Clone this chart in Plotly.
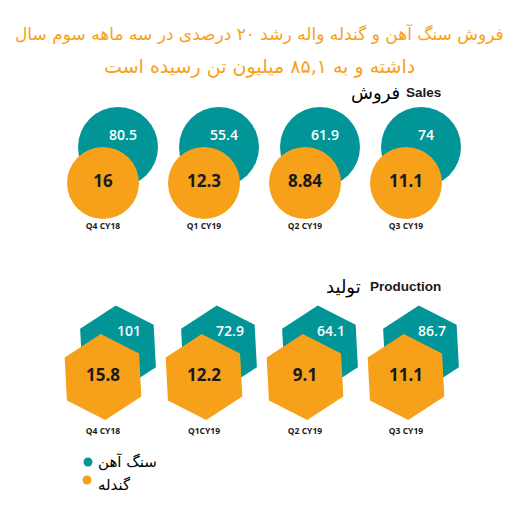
import plotly.graph_objects as go

# data (million tonnes)
quarters_sales = ["Q4 CY18", "Q1 CY19", "Q2 CY19", "Q3 CY19"]
quarters_prod = ["Q4 CY18", "Q1CY19", "Q2 CY19", "Q3 CY19"]
sales_ore = [80.5, 55.4, 61.9, 74]
sales_pellet = [16, 12.3, 8.84, 11.1]
prod_ore = [101, 72.9, 64.1, 86.7]
prod_pellet = [15.8, 12.2, 9.1, 11.1]

title_lines = ["فروش سنگ آهن و گندله واله رشد ۲۰ درصدی در سه ماهه سوم سال",
               "داشته و به ۸۵,۱ میلیون تن رسیده است"]
legend_names = ["سنگ آهن", "گندله"]

TEAL = "#029598"
ORANGE = "#F7A11A"
W, H = 523, 525
PAD = 8  # page body margin, so axis units equal page pixels
X0, STEP = 103, 101

xs = [X0 + STEP * i for i in range(len(quarters_sales))]
fmt = lambda v: f"{v:g}"

fig = go.Figure()


def block(ore, pellet, labels, y_pellet, dy_ore, symbol, s_ore, s_pel, tdx, tdy, ylab, angle):
    # ore marker sits behind and up-right of the pellet marker
    fig.add_trace(go.Scatter(
        x=[x + 15 for x in xs], y=[y_pellet - dy_ore] * len(xs), mode="markers",
        marker=dict(symbol=symbol, size=s_ore, color=TEAL, angle=angle, line=dict(width=0)),
        hoverinfo="skip"))
    fig.add_trace(go.Scatter(
        x=xs, y=[y_pellet] * len(xs), mode="markers",
        marker=dict(symbol=symbol, size=s_pel, color=ORANGE, angle=angle, line=dict(width=0)),
        hoverinfo="skip"))
    fig.add_trace(go.Scatter(
        x=[x + 15 + tdx for x in xs], y=[y_pellet - dy_ore + tdy] * len(xs), mode="text",
        text=[fmt(v) for v in ore],
        textfont=dict(family="Open Sans", size=14, color="white", weight=600),
        hoverinfo="skip"))
    fig.add_trace(go.Scatter(
        x=xs, y=[y_pellet] * len(xs), mode="text",
        text=[fmt(v) for v in pellet],
        textfont=dict(family="Open Sans", size=17, color="#1a1a1a", weight=700),
        hoverinfo="skip"))
    fig.add_trace(go.Scatter(
        x=xs, y=[ylab] * len(xs), mode="text", text=labels,
        textfont=dict(family="Open Sans", size=8.5, color="#1a1a1a", weight=700),
        hoverinfo="skip"))


block(sales_ore, sales_pellet, quarters_sales, 183, 36, "circle", 80, 72, 5, -11, 227, 0)
block(prod_ore, prod_pellet, quarters_prod, 377, 29, "hexagon", 85, 86, 11, -16, 432, -3)

# legend dots
fig.add_trace(go.Scatter(x=[88, 87], y=[462, 480], mode="markers",
                         marker=dict(size=9, color=[TEAL, ORANGE]), hoverinfo="skip"))

ann = []
for i, (line, size) in enumerate(zip(title_lines, [17, 19])):
    ann.append(dict(x=259, y=33 + 33 * i, text=line, xanchor="center", yanchor="middle",
                    font=dict(family="DejaVu Sans", size=size, color=ORANGE)))

ann += [
    dict(x=443, y=92, text="<b>Sales</b>", xanchor="right", yanchor="middle",
         font=dict(family="Liberation Sans", size=13.5, color="#1a1a1a")),
    dict(x=402, y=93, text="فروش", xanchor="right", yanchor="middle",
         font=dict(family="DejaVu Sans", size=18, color="black")),
    dict(x=443, y=286, text="<b>Production</b>", xanchor="right", yanchor="middle",
         font=dict(family="Liberation Sans", size=13.5, color="#1a1a1a")),
    dict(x=363, y=287, text="تولید", xanchor="right", yanchor="middle",
         font=dict(family="DejaVu Sans", size=18, color="black")),
    dict(x=96, y=462, text=legend_names[0], xanchor="left", yanchor="middle",
         font=dict(family="DejaVu Sans", size=15, color="black")),
    dict(x=96, y=485, text=legend_names[1], xanchor="left", yanchor="middle",
         font=dict(family="DejaVu Sans", size=15, color="black")),
]
for a in ann:
    a.update(xref="x", yref="y", showarrow=False)

fig.update_layout(
    width=W, height=H, margin=dict(l=0, r=0, t=0, b=0),
    paper_bgcolor="white", plot_bgcolor="white", showlegend=False,
    xaxis=dict(range=[PAD, W + PAD], visible=False, fixedrange=True),
    yaxis=dict(range=[H + PAD, PAD], visible=False, fixedrange=True),
    annotations=ann,
)

fig.write_html("out.html")
